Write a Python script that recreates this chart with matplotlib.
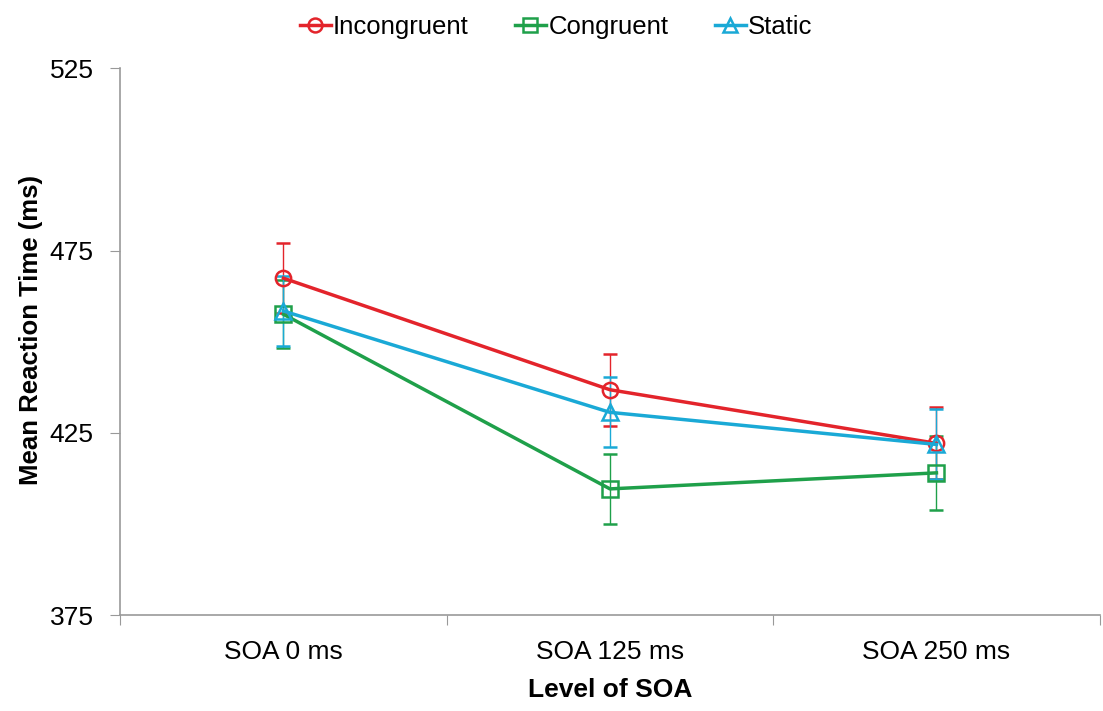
import matplotlib
matplotlib.use('Agg')
import matplotlib.pyplot as plt
from matplotlib.lines import Line2D
import numpy as np

# Data
categories = ['SOA 0 ms', 'SOA 125 ms', 'SOA 250 ms']
incongruent = [467.4, 436.8, 422.1]
congruent = [457.5, 409.6, 414.0]
static = [458.4, 430.6, 421.8]
incongruent_err = [9.6, 9.9, 9.9]
congruent_err = [9.3, 9.6, 10.1]
static_err = [9.6, 9.6, 9.6]
y_ticks = [375, 425, 475, 525]

plt.rcParams['font.family'] = ['Liberation Sans', 'DejaVu Sans']

fig = plt.figure(figsize=(11.03, 7.11), dpi=100)
ax = fig.add_axes([0.109, 0.135, 0.888, 0.769])

x = np.arange(len(categories))
series = [
    ('Incongruent', incongruent, incongruent_err, '#e3242b', 'o'),
    ('Congruent', congruent, congruent_err, '#1fa04a', 's'),
    ('Static', static, static_err, '#1aa9d6', '^'),
]
handles = []
for name, vals, errs, color, marker in series:
    ax.errorbar(x, vals, yerr=errs, color=color, ecolor=color, elinewidth=1,
                capsize=5, capthick=1, lw=2.5, marker=marker, markersize=11,
                markerfacecolor='none', markeredgewidth=1.8)
    handles.append(Line2D([], [], color=color, lw=2.5, marker=marker,
                          markersize=10, markerfacecolor='none',
                          markeredgewidth=1.8, label=name))

# axis styling
ax.set_xlim(-0.5, 2.5)
ax.set_ylim(375, 525)
ax.set_yticks(y_ticks)
ax.set_yticklabels([str(t) for t in y_ticks], fontsize=19)
ax.set_xticks([-0.5, 0.5, 1.5, 2.5])
ax.set_xticklabels([])
ax.set_xticks(x, minor=True)
ax.set_xticklabels(categories, minor=True, fontsize=19)
ax.tick_params(axis='x', which='minor', length=0, pad=18)
ax.tick_params(axis='x', which='major', length=7, color='#999999', direction='out')
ax.tick_params(axis='y', length=7, color='#999999', direction='out', pad=12)
for s in ['top', 'right']:
    ax.spines[s].set_visible(False)
for s in ['left', 'bottom']:
    ax.spines[s].set_color('#999999')
    ax.spines[s].set_linewidth(1.2)

ax.set_xlabel('Level of SOA', fontsize=19, fontweight='bold', labelpad=10)
ax.set_ylabel('Mean Reaction Time (ms)', fontsize=18.5, fontweight='bold')
ax.yaxis.set_label_coords(-0.079, 0.521)

ax.legend(handles=handles, loc='upper center', bbox_to_anchor=(0.445, 1.14), ncol=3,
          frameon=False, fontsize=18.5, handlelength=1.2, handletextpad=0.1,
          columnspacing=1.8)

fig.savefig('out.png', dpi=100)
